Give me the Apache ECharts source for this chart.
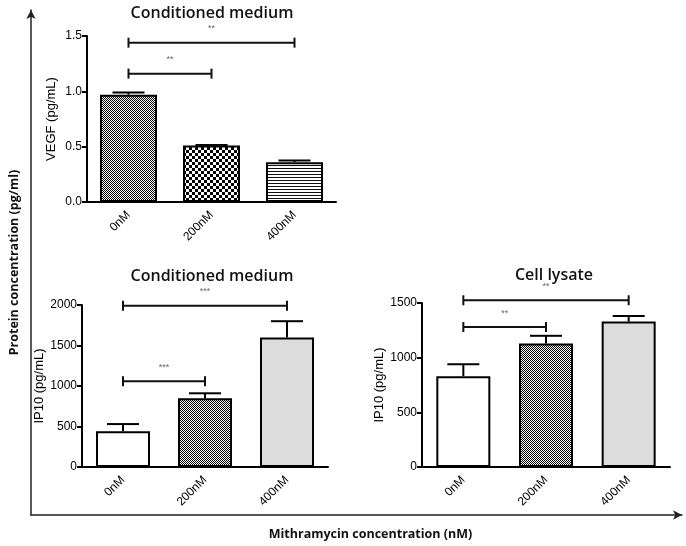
<!DOCTYPE html>
<html>
<head>
<meta charset="utf-8">
<script src="https://cdn.jsdelivr.net/npm/echarts@6/dist/echarts.min.js"></script>
<style>html,body{margin:0;padding:0;background:#fff;}#c{width:686px;height:546px;}</style>
</head>
<body>
<div id="c"></div>
<script>
// ---- data ----
const categories = ['0nM', '200nM', '400nM'];
const vegfMean = [0.97, 0.51, 0.36];
const vegfErr = [0.99, 0.515, 0.375];
const ip10CmMean = [440, 850, 1600];
const ip10CmErr = [530, 910, 1800];
const ip10LyMean = [830, 1130, 1330];
const ip10LyErr = [940, 1200, 1380];
const vegfTicks = [0, 0.5, 1.0, 1.5];
const cmTicks = [0, 500, 1000, 1500, 2000];
const lyTicks = [0, 500, 1000, 1500];
// brackets: [fromIndex, toIndex, yValue, label]
const vegfBrackets = [[0, 2, 1.44, '**'], [0, 1, 1.16, '**']];
const cmBrackets = [[0, 2, 1990, '***'], [0, 1, 1060, '***']];
const lyBrackets = [[0, 2, 1525, '**'], [0, 1, 1280, '**']];

// ---- patterns ----
function makePattern(w, h, draw) {
  const c = document.createElement('canvas');
  c.width = w; c.height = h;
  const ctx = c.getContext('2d');
  ctx.fillStyle = '#fff'; ctx.fillRect(0, 0, w, h);
  draw(ctx);
  return { image: c, repeat: 'repeat' };
}
const fineChecker = makePattern(2, 2, ctx => { ctx.fillStyle = '#000'; ctx.fillRect(0, 0, 1, 1); ctx.fillRect(1, 1, 1, 1); });
const coarseChecker = makePattern(6, 6, ctx => { ctx.fillStyle = '#000'; ctx.fillRect(0, 0, 3, 3); ctx.fillRect(3, 3, 3, 3); });
const stripes = makePattern(4, 3, ctx => { ctx.fillStyle = '#111'; ctx.fillRect(0, 0, 4, 1); });

const vegfFills = [fineChecker, coarseChecker, stripes];
const ip10Fills = ['#ffffff', fineChecker, '#dcdcdc'];

const labelFont = 'Liberation Sans, Arial, sans-serif';

function barSeries(gi, means, fills, width) {
  return {
    type: 'bar', xAxisIndex: gi, yAxisIndex: gi, barWidth: width, z: 2,
    data: means.map((v, i) => ({ value: v, itemStyle: { color: fills[i], borderColor: '#000', borderWidth: 2 } }))
  };
}
function errSeries(gi, means, errs) {
  return {
    type: 'custom', xAxisIndex: gi, yAxisIndex: gi, z: 3,
    data: means.map((m, i) => [i, m, errs[i]]),
    encode: { x: 0, y: [1, 2] },
    renderItem: (params, api) => {
      const p0 = api.coord([api.value(0), api.value(1)]);
      const p1 = api.coord([api.value(0), api.value(2)]);
      const st = { stroke: '#000', lineWidth: 2 };
      return { type: 'group', children: [
        { type: 'line', shape: { x1: p0[0], y1: p0[1], x2: p1[0], y2: p1[1] }, style: st },
        { type: 'line', shape: { x1: p1[0] - 16, y1: p1[1], x2: p1[0] + 16, y2: p1[1] }, style: st }
      ]};
    }
  };
}
function bracketSeries(gi, brackets) {
  return {
    type: 'custom', xAxisIndex: gi, yAxisIndex: gi, z: 4, clip: false,
    data: brackets.map(b => [b[0], b[2], b[1]]),
    encode: { x: [0, 2], y: 1 },
    renderItem: (params, api) => {
      const a = api.coord([api.value(0), api.value(1)]);
      const b = api.coord([api.value(2), api.value(1)]);
      const st = { stroke: '#111', lineWidth: 2 };
      const label = brackets[params.dataIndex][3];
      return { type: 'group', children: [
        { type: 'line', shape: { x1: a[0], y1: a[1], x2: b[0], y2: b[1] }, style: st },
        { type: 'line', shape: { x1: a[0], y1: a[1] - 5, x2: a[0], y2: a[1] + 5 }, style: st },
        { type: 'line', shape: { x1: b[0], y1: b[1] - 5, x2: b[0], y2: b[1] + 5 }, style: st },
        { type: 'text', style: { text: label, x: (a[0] + b[0]) / 2, y: a[1] - 14, align: 'center', verticalAlign: 'middle', fontSize: 9, fill: '#666', fontFamily: labelFont } }
      ]};
    }
  };
}
function xAx(gi) {
  return {
    type: 'category', gridIndex: gi, data: categories,
    axisLine: { lineStyle: { color: '#000', width: 2 } },
    axisTick: { alignWithLabel: true, length: 5, lineStyle: { color: '#000', width: 2 } },
    axisLabel: { rotate: 45, fontSize: 12, color: '#000', margin: 11, fontFamily: labelFont }
  };
}
function yAx(gi, ticks, name, gap, fmt) {
  return {
    type: 'value', gridIndex: gi, min: ticks[0], max: ticks[ticks.length - 1], interval: ticks[1] - ticks[0],
    name: name, nameLocation: 'middle', nameGap: gap, nameRotate: 90,
    nameTextStyle: { fontSize: 13, color: '#000', fontFamily: labelFont },
    splitLine: { show: false },
    axisLine: { show: true, lineStyle: { color: '#000', width: 2 } },
    axisTick: { show: true, length: 5, lineStyle: { color: '#000', width: 2 } },
    axisLabel: { fontSize: 12, color: '#000', margin: 5, fontFamily: labelFont, formatter: fmt || (v => String(v)) }
  };
}

const titleStyle = { fontFamily: 'Open Sans, sans-serif', fontSize: 16, fontWeight: 600, color: '#111' };

const option = {
  backgroundColor: '#fff',
  animation: false,
  title: [
    { text: 'Conditioned medium', left: 207, top: 0, textAlign: 'center', textStyle: titleStyle },
    { text: 'Conditioned medium', left: 207, top: 263, textAlign: 'center', textStyle: titleStyle },
    { text: 'Cell lysate', left: 549, top: 262, textAlign: 'center', textStyle: titleStyle }
  ],
  grid: [
    { left: 87, top: 36, width: 249, height: 166 },
    { left: 82, top: 305, width: 246, height: 162 },
    { left: 422, top: 303, width: 248, height: 164 },
    { left: 23, top: 10, width: 659, height: 512 }
  ],
  xAxis: [
    xAx(0), xAx(1), xAx(2),
    { type: 'value', gridIndex: 3, min: 0, max: 1, splitLine: { show: false }, axisTick: { show: false }, axisLabel: { show: false },
      axisLine: { show: true, onZero: false, symbol: ['none', 'arrow'], symbolSize: [7, 9], lineStyle: { color: '#222', width: 1.5 } },
      name: 'Mithramycin concentration (nM)', nameLocation: 'middle', nameGap: 13,
      nameTextStyle: { fontFamily: 'Open Sans, sans-serif', fontWeight: 'bold', fontSize: 12.5, color: '#111', padding: [0, 0, 0, 28] } }
  ],
  yAxis: [
    yAx(0, vegfTicks, 'VEGF (pg/mL)', 29, v => v.toFixed(1)),
    yAx(1, cmTicks, 'IP10 (pg/mL)', 33),
    yAx(2, lyTicks, 'IP10 (pg/mL)', 34),
    { type: 'value', gridIndex: 3, min: 0, max: 1, splitLine: { show: false }, axisTick: { show: false }, axisLabel: { show: false },
      axisLine: { show: true, onZero: false, symbol: ['none', 'arrow'], symbolSize: [7, 9], lineStyle: { color: '#222', width: 1.5 } },
      name: 'Protein concentration (pg/ml)', nameLocation: 'middle', nameGap: 10, nameRotate: 90,
      nameTextStyle: { fontFamily: 'Open Sans, sans-serif', fontWeight: 'bold', fontSize: 12.5, color: '#111' } }
  ],
  series: [
    barSeries(0, vegfMean, vegfFills, 57),
    errSeries(0, vegfMean, vegfErr),
    bracketSeries(0, vegfBrackets),
    barSeries(1, ip10CmMean, ip10Fills, 54),
    errSeries(1, ip10CmMean, ip10CmErr),
    bracketSeries(1, cmBrackets),
    barSeries(2, ip10LyMean, ip10Fills, 54),
    errSeries(2, ip10LyMean, ip10LyErr),
    bracketSeries(2, lyBrackets)
  ]
};
const chart = echarts.init(document.getElementById('c'), null, { renderer: 'canvas' });
chart.setOption(option);
</script>
</body>
</html>
